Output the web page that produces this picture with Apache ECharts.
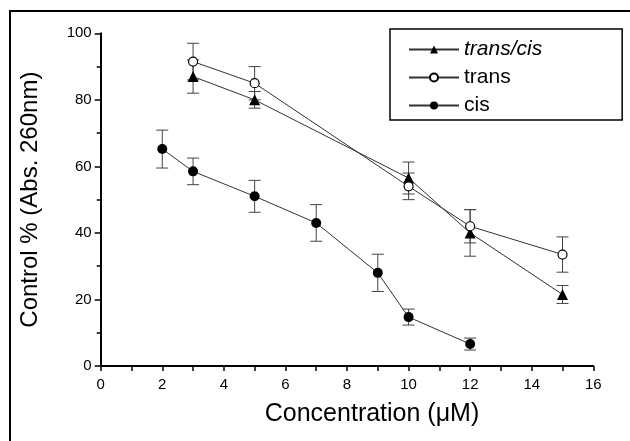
<!DOCTYPE html>
<html>
<head>
<meta charset="utf-8">
<script src="https://cdn.jsdelivr.net/npm/echarts@6/dist/echarts.min.js"></script>
<style>
  html, body { margin: 0; padding: 0; background: #fff; }
  #chart-container { width: 630px; height: 441px; }
</style>
</head>
<body>
<div id="chart-container"></div>
<script>
var dom = document.getElementById("chart-container");
var myChart = echarts.init(dom, null, { renderer: "canvas" });

// concentrations (uM) and control % values
var transCisX = [3, 5, 10, 12, 15];
var transCisY = [87, 80, 56.5, 40, 21.5];
var transCisErr = [5, 2.5, 4.8, 7, 2.7];

var transX = [3, 5, 10, 12, 15];
var transY = [91.5, 85, 54, 42, 33.5];
var transErr = [5.5, 5, 4, 5, 5.3];

var cisX = [2, 3, 5, 7, 9, 10, 12];
var cisY = [65.2, 58.5, 51, 43, 28, 14.7, 6.6];
var cisErr = [5.7, 4, 4.8, 5.5, 5.6, 2.4, 1.8];

var font = "Liberation Sans, Arial, sans-serif";

function pairs(xs, ys) {
  return xs.map(function (x, i) { return [x, ys[i]]; });
}
function errRows(xs, ys, es) {
  return xs.map(function (x, i) { return [x, ys[i] - es[i], ys[i] + es[i]]; });
}

function errorBars(data) {
  return {
    type: "custom",
    silent: true,
    z: 1,
    renderItem: function (params, api) {
      var lo = api.coord([api.value(0), api.value(1)]);
      var hi = api.coord([api.value(0), api.value(2)]);
      var w = 6;
      var st = { stroke: "#444", lineWidth: 1 };
      return {
        type: "group",
        children: [
          { type: "line", shape: { x1: lo[0], y1: lo[1], x2: hi[0], y2: hi[1] }, style: st },
          { type: "line", shape: { x1: lo[0] - w, y1: lo[1], x2: lo[0] + w, y2: lo[1] }, style: st },
          { type: "line", shape: { x1: hi[0] - w, y1: hi[1], x2: hi[0] + w, y2: hi[1] }, style: st }
        ]
      };
    },
    encode: { x: 0, y: [1, 2] },
    data: data
  };
}

var option = {
  animation: false,
  backgroundColor: "#fff",
  grid: { left: 100.7, right: 36.7, top: 33.3, bottom: 75 },
  graphic: [
    { type: "line", shape: { x1: 10, y1: 11, x2: 630, y2: 11 }, style: { stroke: "#000", lineWidth: 2 } },
    { type: "line", shape: { x1: 10, y1: 10, x2: 10, y2: 441 }, style: { stroke: "#000", lineWidth: 2 } }
  ],
  legend: {
    orient: "vertical",
    left: 390,
    top: 29,
    padding: [10, 80, 4, 18],
    itemGap: 7,
    itemWidth: 50,
    itemHeight: 10,
    borderColor: "#000",
    borderWidth: 1.5,
    textStyle: { fontFamily: font, fontSize: 21, color: "#000", lineHeight: 20 },
    data: [
      { name: "trans/cis", textStyle: { fontStyle: "italic" } },
      { name: "trans" },
      { name: "cis" }
    ]
  },
  xAxis: {
    type: "value",
    min: 0,
    max: 16,
    interval: 2,
    name: "Concentration (\u03bcM)",
    nameLocation: "middle",
    nameGap: 36,
    nameTextStyle: { fontFamily: font, fontSize: 25, color: "#000", padding: [0, 0, 0, 50] },
    axisLine: { onZero: false, lineStyle: { color: "#000", width: 2 } },
    axisTick: { show: true, inside: false, length: 5, lineStyle: { color: "#000", width: 1.5 } },
    minorTick: { show: true, splitNumber: 2, length: 5, lineStyle: { color: "#000", width: 1.5 } },
    axisLabel: { fontFamily: font, fontSize: 15, color: "#000", margin: 11 },
    splitLine: { show: false }
  },
  yAxis: {
    type: "value",
    min: 0,
    max: 100,
    interval: 20,
    name: "Control % (Abs. 260nm)",
    nameLocation: "middle",
    nameGap: 58,
    nameTextStyle: { fontFamily: font, fontSize: 24, color: "#000" },
    axisLine: { show: true, lineStyle: { color: "#000", width: 2 } },
    axisTick: { show: true, inside: false, length: 6, lineStyle: { color: "#000", width: 1.5 } },
    minorTick: { show: true, splitNumber: 2, length: 4, lineStyle: { color: "#000", width: 1.5 } },
    axisLabel: { fontFamily: font, fontSize: 15, color: "#000", margin: 9 },
    splitLine: { show: false }
  },
  series: [
    errorBars(errRows(transCisX, transCisY, transCisErr)),
    errorBars(errRows(transX, transY, transErr)),
    errorBars(errRows(cisX, cisY, cisErr)),
    {
      name: "trans/cis",
      type: "line",
      z: 3,
      symbol: "triangle",
      symbolSize: 11,
      itemStyle: { color: "#000" },
      lineStyle: { color: "#333", width: 1 },
      data: pairs(transCisX, transCisY)
    },
    {
      name: "trans",
      type: "line",
      z: 4,
      symbol: "circle",
      symbolSize: 9,
      itemStyle: { color: "#fff", borderColor: "#000", borderWidth: 1.2 },
      lineStyle: { color: "#333", width: 1 },
      data: pairs(transX, transY)
    },
    {
      name: "cis",
      type: "line",
      z: 3,
      symbol: "circle",
      symbolSize: 10,
      itemStyle: { color: "#000" },
      lineStyle: { color: "#333", width: 1 },
      data: pairs(cisX, cisY)
    }
  ]
};

myChart.setOption(option);
window.addEventListener("resize", myChart.resize);
</script>
</body>
</html>
